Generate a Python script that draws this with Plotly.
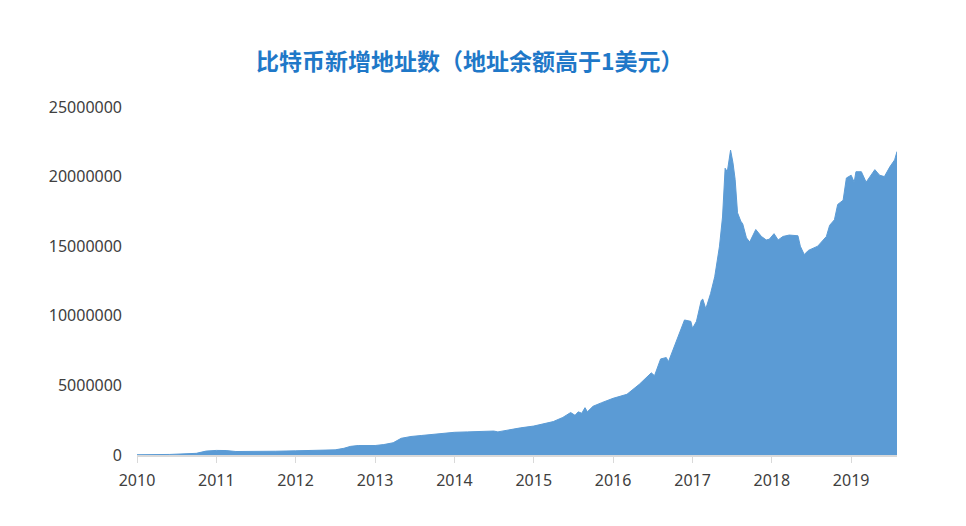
import plotly.graph_objects as go

dates = [
    "2010-01-01", "2010-06-01", "2010-10-01", "2010-11-15", "2011-01-01", "2011-02-15",
    "2011-04-01", "2011-07-01", "2011-10-01", "2012-01-01", "2012-04-01", "2012-07-01",
    "2012-08-10", "2012-09-10", "2012-10-15", "2012-12-01", "2013-01-01", "2013-02-10",
    "2013-03-25", "2013-05-01", "2013-06-15", "2013-08-01", "2013-09-15", "2013-11-01",
    "2014-01-01", "2014-03-01", "2014-05-01", "2014-07-01", "2014-07-20", "2014-09-01",
    "2014-11-01", "2015-01-01", "2015-03-01", "2015-04-01", "2015-05-15", "2015-06-20",
    "2015-07-10", "2015-07-25", "2015-08-10", "2015-08-25", "2015-09-05", "2015-10-01",
    "2015-11-10", "2016-01-01", "2016-03-05", "2016-05-01", "2016-06-25", "2016-07-10",
    "2016-08-07", "2016-09-02", "2016-09-12", "2016-10-09", "2016-11-25", "2016-12-24",
    "2017-01-01", "2017-01-19", "2017-02-10", "2017-02-17", "2017-03-03", "2017-03-25",
    "2017-04-13", "2017-05-05", "2017-05-19", "2017-05-31", "2017-06-10", "2017-06-25",
    "2017-07-06", "2017-07-16", "2017-07-27", "2017-08-11", "2017-08-20", "2017-09-06",
    "2017-09-21", "2017-10-19", "2017-11-14", "2017-12-06", "2017-12-20", "2018-01-11",
    "2018-01-30", "2018-02-21", "2018-03-22", "2018-05-01", "2018-05-12", "2018-05-30",
    "2018-06-18", "2018-07-31", "2018-09-09", "2018-09-24", "2018-10-16", "2018-10-31",
    "2018-11-25", "2018-12-10", "2019-01-01", "2019-01-15", "2019-01-23", "2019-02-17",
    "2019-03-11", "2019-04-20", "2019-05-12", "2019-06-03", "2019-06-28", "2019-07-20",
    "2019-07-31",
]
values_m = [
    0.02, 0.04, 0.12, 0.28, 0.33, 0.32,
    0.25, 0.24, 0.27, 0.30, 0.33, 0.37,
    0.48, 0.62, 0.68, 0.66, 0.68, 0.75,
    0.88, 1.20, 1.33, 1.40, 1.47, 1.55,
    1.63, 1.66, 1.68, 1.72, 1.66, 1.80,
    1.95, 2.08, 2.28, 2.40, 2.70, 3.05,
    2.85, 3.10, 3.00, 3.40, 3.10, 3.50,
    3.76, 4.07, 4.36, 5.08, 5.90, 5.70,
    6.90, 7.00, 6.70, 7.80, 9.70, 9.60,
    9.10, 9.60, 11.10, 11.20, 10.50, 11.60,
    12.80, 15.00, 17.10, 20.60, 20.35, 21.90,
    21.00, 19.80, 17.40, 16.80, 16.60, 15.60,
    15.30, 16.20, 15.70, 15.45, 15.50, 15.90,
    15.45, 15.70, 15.80, 15.75, 15.00, 14.40,
    14.70, 15.00, 15.70, 16.50, 16.90, 18.00,
    18.30, 19.90, 20.10, 19.60, 20.35, 20.35,
    19.60, 20.50, 20.10, 20.00, 20.70, 21.20,
    21.80,
]
values = [v * 1_000_000 for v in values_m]

years = [str(y) for y in range(2010, 2020)]
y_ticks = [0, 5000000, 10000000, 15000000, 20000000, 25000000]

title = "比特币新增地址数（地址余额高于1美元）"

fig = go.Figure()
fig.add_trace(
    go.Scatter(
        x=dates,
        y=values,
        mode="lines",
        fill="tozeroy",
        fillcolor="#5b9bd5",
        line={"color": "#5b9bd5", "width": 1},
        hoverinfo="skip",
    )
)

# page body has an 8px margin, so the figure is sized to fit the window
fig.update_layout(
    width=958,
    height=518,
    paper_bgcolor="white",
    plot_bgcolor="white",
    showlegend=False,
    margin={"l": 129, "r": 69, "t": 99, "b": 71},
    font={"family": "'Noto Sans', sans-serif", "size": 16, "color": "#404040"},
    title={
        "text": title,
        "x": 0.482,
        "xanchor": "center",
        "y": 0.896,
        "yanchor": "middle",
        "font": {"family": "'Noto Sans CJK SC', sans-serif", "size": 23, "color": "#1f78c8", "weight": "bold"},
    },
    xaxis={
        "type": "date",
        "range": ["2010-01-01", "2019-07-31"],
        "tickvals": [f"{y}-01-01" for y in years],
        "ticktext": years,
        "showgrid": False,
        "showline": True,
        "linecolor": "#d9d9d9",
        "linewidth": 1.5,
        "ticks": "outside",
        "ticklen": 6,
        "tickcolor": "#d9d9d9",
        "zeroline": False,
        "ticklabelstandoff": 4,
    },
    yaxis={
        "range": [0, 25000000],
        "tickvals": y_ticks,
        "ticktext": [str(v) for v in y_ticks],
        "showgrid": False,
        "showline": False,
        "zeroline": False,
        "ticks": "",
        "ticklabelstandoff": 14,
    },
)

fig.write_html("out.html")
